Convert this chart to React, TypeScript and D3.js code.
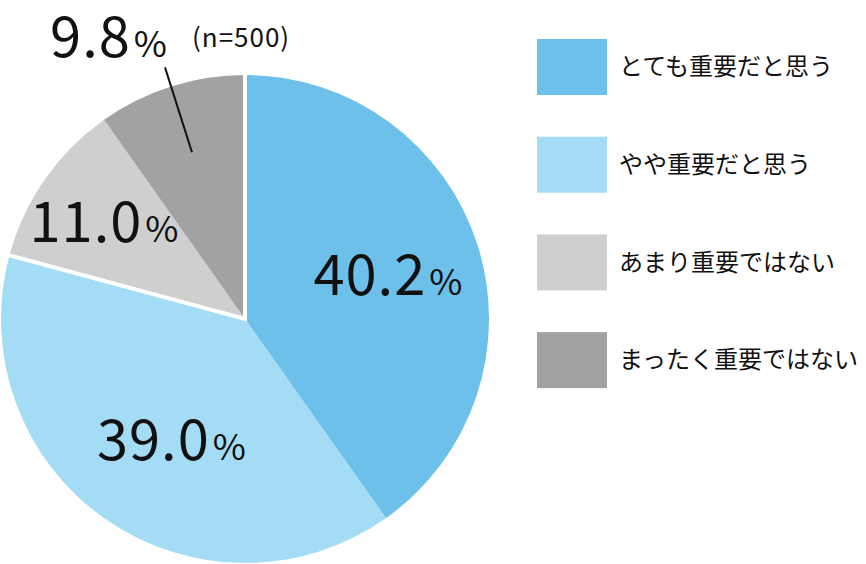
import React from "react";
import * as d3 from "d3";

// survey answers, share of respondents (%)
const categories = [
  "とても重要だと思う",
  "やや重要だと思う",
  "あまり重要ではない",
  "まったく重要ではない",
];
const values = [40.2, 39.0, 11.0, 9.8];
const sliceColors = ["#6cc0e9", "#a3dcf4", "#cfcfcf", "#a2a2a2"];
const sampleNote = "(n=500)";

const WIDTH = 866;
const HEIGHT = 564;
const FONT = "'Noto Sans CJK JP', 'Noto Sans', sans-serif";

const App = () => {
  const cx = 245;
  const cy = 319;
  const radius = 244;

  const pie = d3
    .pie<number>()
    .sort(null)
    .startAngle(0)
    .endAngle(2 * Math.PI);
  const arcs = pie(values);

  const arc = d3.arc<d3.PieArcDatum<number>>().innerRadius(0).outerRadius(radius);

  // label distance from center, per slice, plus a small sideways nudge
  const labelRadius = [150, 146, 172];
  const labelNudge = [0, 10, 0];
  const mid = (d: d3.PieArcDatum<number>) => (d.startAngle + d.endAngle) / 2;

  // white gap between the blue group and the gray group
  const splitAngle = arcs[2].startAngle;
  const gapPath = d3.line()([
    d3.pointRadial(0, radius + 2),
    [0, 0],
    d3.pointRadial(splitAngle, radius + 2),
  ]);

  // smallest slice is labelled outside with a leader
  const last = arcs[3];
  const leaderStart = d3.pointRadial(mid(last), 175);
  const leaderEnd = d3.pointRadial(mid(last), 264);

  const legendY = d3
    .scaleBand()
    .domain(categories)
    .range([39, 39 + 97.7 * 4]);

  const pctLabel = (v: number) => (
    <>
      <tspan fontSize={56} letterSpacing={1}>{v.toFixed(1)}</tspan>
      <tspan fontSize={36} dx={3}>%</tspan>
    </>
  );

  return (
    <svg
      width={WIDTH}
      height={HEIGHT}
      style={{ position: "absolute", left: 0, top: 0, background: "#fff" }}
    >
      <g transform={`translate(${cx},${cy})`}>
        {arcs.map((d, i) => (
          <path key={i} d={arc(d) || ""} fill={sliceColors[i]} />
        ))}
        <path d={gapPath || ""} fill="none" stroke="#fff" strokeWidth={4} />

        <line
          x1={leaderStart[0]}
          y1={leaderStart[1]}
          x2={leaderEnd[0]}
          y2={leaderEnd[1]}
          stroke="#111"
          strokeWidth={2}
        />

        {arcs.slice(0, 3).map((d, i) => {
          const [x, y] = d3.pointRadial(mid(d), labelRadius[i]);
          return (
            <text
              key={i}
              x={x + labelNudge[i]}
              y={y + 21}
              textAnchor="middle"
              fontFamily={FONT}
              fill="#111"
            >
              {pctLabel(d.data)}
            </text>
          );
        })}

        <text
          x={leaderEnd[0] + 2}
          y={leaderEnd[1] - 10}
          textAnchor="end"
          fontFamily={FONT}
          fill="#111"
        >
          {pctLabel(last.data)}
        </text>
      </g>

      <text x={192} y={47} fontFamily={FONT} fontSize={26} letterSpacing={1} fill="#111">
        {sampleNote}
      </text>

      {categories.map((c, i) => {
        const y0 = legendY(c) as number;
        return (
          <g key={c} transform={`translate(537,${y0})`}>
            <rect width={70} height={56} fill={sliceColors[i]} />
            <text
              x={82}
              y={28}
              dy="0.35em"
              fontFamily={FONT}
              fontSize={24}
              fill="#111"
            >
              {c}
            </text>
          </g>
        );
      })}
    </svg>
  );
};

export default App;
